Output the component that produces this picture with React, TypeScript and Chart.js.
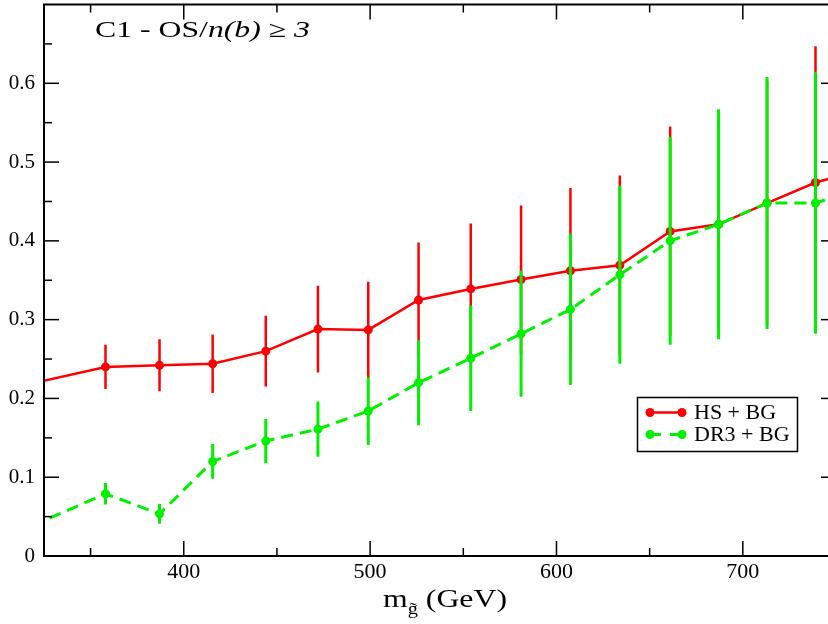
import React, { useEffect, useRef } from 'react';
import { Chart, registerables } from 'chart.js';

Chart.register(...registerables);

// ---- data ----
const gluinoMass = [300, 358, 387, 415.5, 444, 472, 499, 526, 554, 581, 607.5, 634, 661, 687, 713, 739, 765];
const hsBg = [0.209, 0.24, 0.242, 0.244, 0.26, 0.288, 0.287, 0.325, 0.339, 0.351, 0.362, 0.369, 0.412, 0.421, 0.448, 0.474, 0.491];
const hsBgErr = [0.025, 0.028, 0.033, 0.037, 0.045, 0.055, 0.061, 0.073, 0.083, 0.094, 0.105, 0.114, 0.133, 0.14, 0.155, 0.173, 0.18];
const dr3Bg = [0.019, 0.079, 0.0535, 0.12, 0.146, 0.161, 0.184, 0.22, 0.251, 0.282, 0.313, 0.357, 0.4, 0.421, 0.448, 0.448, 0.468];
const dr3BgErr = [0.01, 0.0135, 0.0125, 0.022, 0.028, 0.035, 0.043, 0.054, 0.067, 0.08, 0.096, 0.113, 0.132, 0.146, 0.16, 0.166, 0.17];
const seriesNames = ['HS + BG', 'DR3 + BG'];
const xMinorTicks = [350, 450, 550, 650];
const xMajorTicks = [400, 500, 600, 700];
const yMajorTicks = [0, 0.1, 0.2, 0.3, 0.4, 0.5, 0.6];
const yMinorTicks = [0.05, 0.15, 0.25, 0.35, 0.45, 0.55, 0.65];

const RED = '#ff0000';
const GREEN = 'rgb(0,240,0)';
const SERIF = '"Times New Roman", "Liberation Serif", Tinos, Times, serif';

const errorSets = [hsBgErr, dr3BgErr];
const valueSets = [hsBg, dr3Bg];
const errColors = [RED, GREEN];
const errWidths = [2.5, 3];

const errorBarPlugin = {
  id: 'errorBars',
  beforeDatasetDraw(chart: any, args: any) {
    const i = args.index;
    const errs = errorSets[i];
    const vals = valueSets[i];
    const xs = chart.scales.x;
    const ys = chart.scales.y;
    const a = chart.chartArea;
    const ctx = chart.ctx;
    ctx.save();
    ctx.beginPath();
    ctx.rect(a.left, a.top, a.right - a.left, a.bottom - a.top);
    ctx.clip();
    ctx.strokeStyle = errColors[i];
    ctx.lineWidth = errWidths[i];
    ctx.setLineDash([]);
    for (let k = 0; k < gluinoMass.length; k++) {
      const x = xs.getPixelForValue(gluinoMass[k]);
      ctx.beginPath();
      ctx.moveTo(x, ys.getPixelForValue(vals[k] + errs[k]));
      ctx.lineTo(x, ys.getPixelForValue(vals[k] - errs[k]));
      ctx.stroke();
    }
    ctx.restore();
  },
};

function drawSegments(ctx: any, segs: any[], x0: number, y0: number, targetWidth: number) {
  let total = 0;
  for (const s of segs) {
    ctx.font = s.font;
    total += ctx.measureText(s.t).width;
  }
  const sx = targetWidth / total;
  ctx.save();
  ctx.translate(x0, y0);
  ctx.scale(sx, 1);
  let x = 0;
  ctx.fillStyle = '#000';
  ctx.textBaseline = 'alphabetic';
  ctx.textAlign = 'left';
  for (const s of segs) {
    ctx.font = s.font;
    ctx.fillText(s.t, x, s.dy || 0);
    x += ctx.measureText(s.t).width;
  }
  ctx.restore();
}

const decorPlugin = {
  id: 'decor',
  afterDraw(chart: any) {
    const ctx = chart.ctx;
    const a = chart.chartArea;
    const xs = chart.scales.x;
    const ys = chart.scales.y;
    ctx.save();
    // frame
    ctx.strokeStyle = '#000';
    ctx.lineWidth = 2;
    ctx.setLineDash([]);
    ctx.strokeRect(a.left, a.top, a.right - a.left, a.bottom - a.top);
    // ticks
    ctx.lineWidth = 1.5;
    const tick = (x1: number, y1: number, x2: number, y2: number) => {
      ctx.beginPath();
      ctx.moveTo(x1, y1);
      ctx.lineTo(x2, y2);
      ctx.stroke();
    };
    for (const v of xMajorTicks) {
      const x = xs.getPixelForValue(v);
      tick(x, a.bottom, x, a.bottom - 15);
      tick(x, a.top, x, a.top + 15);
    }
    for (const v of xMinorTicks) {
      const x = xs.getPixelForValue(v);
      tick(x, a.bottom, x, a.bottom - 8);
      tick(x, a.top, x, a.top + 8);
    }
    for (const v of yMajorTicks) {
      const y = ys.getPixelForValue(v);
      tick(a.left, y, a.left + 15, y);
      tick(a.right, y, a.right - 15, y);
    }
    for (const v of yMinorTicks) {
      const y = ys.getPixelForValue(v);
      tick(a.left, y, a.left + 8, y);
      tick(a.right, y, a.right - 8, y);
    }

    // title
    drawSegments(
      ctx,
      [
        { t: 'C1 - OS/', font: `23px ${SERIF}` },
        { t: 'n(b)', font: `italic 23px ${SERIF}` },
        { t: ' \u2265 ', font: `23px ${SERIF}` },
        { t: '3', font: `italic 23px ${SERIF}` },
      ],
      95,
      37,
      215
    );

    // x-axis title
    drawSegments(
      ctx,
      [
        { t: 'm', font: `25px ${SERIF}` },
        { t: 'g\u0303', font: `16px ${SERIF}`, dy: 7 },
        { t: ' (GeV)', font: `25px ${SERIF}` },
      ],
      383,
      607,
      124
    );

    // legend
    const bx = 637.5, by = 397.5, bw = 160, bh = 54;
    ctx.fillStyle = '#fff';
    ctx.fillRect(bx, by, bw, bh);
    ctx.strokeStyle = '#000';
    ctx.lineWidth = 1.5;
    ctx.strokeRect(bx, by, bw, bh);
    const rows = [
      { y: 412.5, color: RED, dash: [] as number[], w: 2.5 },
      { y: 434.5, color: GREEN, dash: [11, 9], w: 3 },
    ];
    rows.forEach((r, i) => {
      ctx.strokeStyle = r.color;
      ctx.lineWidth = r.w;
      ctx.setLineDash(r.dash);
      ctx.beginPath();
      ctx.moveTo(650, r.y);
      ctx.lineTo(682, r.y);
      ctx.stroke();
      ctx.setLineDash([]);
      ctx.fillStyle = r.color;
      for (const px of [650, 682]) {
        ctx.beginPath();
        ctx.arc(px, r.y, 4.5, 0, Math.PI * 2);
        ctx.fill();
      }
      ctx.fillStyle = '#000';
      ctx.font = `22px ${SERIF}`;
      ctx.textBaseline = 'middle';
      ctx.textAlign = 'left';
      ctx.fillText(seriesNames[i], 694, r.y + 1);
    });
    ctx.restore();
  },
};

export default function App() {
  const ref = useRef<HTMLCanvasElement | null>(null);
  useEffect(() => {
    if (!ref.current) return;
    const chart = new Chart(ref.current, {
      type: 'line',
      data: {
        datasets: [
          {
            label: seriesNames[0],
            data: gluinoMass.map((x, i) => ({ x, y: hsBg[i] })),
            borderColor: RED,
            backgroundColor: RED,
            borderWidth: 2.5,
            pointRadius: 4.5,
            pointBorderWidth: 0,
            pointBackgroundColor: RED,
            tension: 0,
            order: 1,
          },
          {
            label: seriesNames[1],
            data: gluinoMass.map((x, i) => ({ x, y: dr3Bg[i] })),
            borderColor: GREEN,
            backgroundColor: GREEN,
            borderWidth: 3,
            borderDash: [12, 7],
            pointRadius: 4.5,
            pointBorderWidth: 0,
            pointBackgroundColor: GREEN,
            tension: 0,
            order: 0,
          },
        ],
      },
      options: {
        responsive: false,
        devicePixelRatio: 1,
        animation: false,
        layout: { padding: { left: 0, top: 1, right: 9, bottom: 0 } },
        plugins: { legend: { display: false }, tooltip: { enabled: false }, title: { display: false } },
        scales: {
          x: {
            type: 'linear',
            position: 'bottom',
            min: 325,
            max: 750,
            grid: { display: false, drawTicks: false },
            border: { display: false },
            ticks: {
              stepSize: 100,
              includeBounds: false,
              autoSkip: false,
              maxRotation: 0,
              padding: 3,
              color: '#000',
              font: { family: SERIF, size: 22 },
              callback: (v: any) => String(v),
            },
            afterFit: (s: any) => {
              s.height = 68;
              s.paddingLeft = 0;
              s.paddingRight = 0;
            },
          },
          y: {
            type: 'linear',
            min: 0,
            max: 0.7,
            grid: { display: false, drawTicks: false },
            border: { display: false },
            ticks: {
              stepSize: 0.1,
              autoSkip: false,
              padding: 9,
              color: '#000',
              font: { family: SERIF, size: 21 },
              callback: (v: any) => (v > 0.65 ? '' : String(Math.round(Number(v) * 10) / 10)),
            },
            afterFit: (s: any) => {
              s.width = 44;
              s.paddingTop = 0;
              s.paddingBottom = 0;
            },
          },
        },
      },
      plugins: [errorBarPlugin, decorPlugin],
    } as any);
    return () => chart.destroy();
  }, []);
  return (
    <div style={{ position: 'fixed', left: 0, top: 0, width: 845, height: 624, background: '#fff', overflow: 'hidden' }}>
      <canvas ref={ref} width={845} height={624} style={{ display: 'block', width: 845, height: 624 }} />
    </div>
  );
}
